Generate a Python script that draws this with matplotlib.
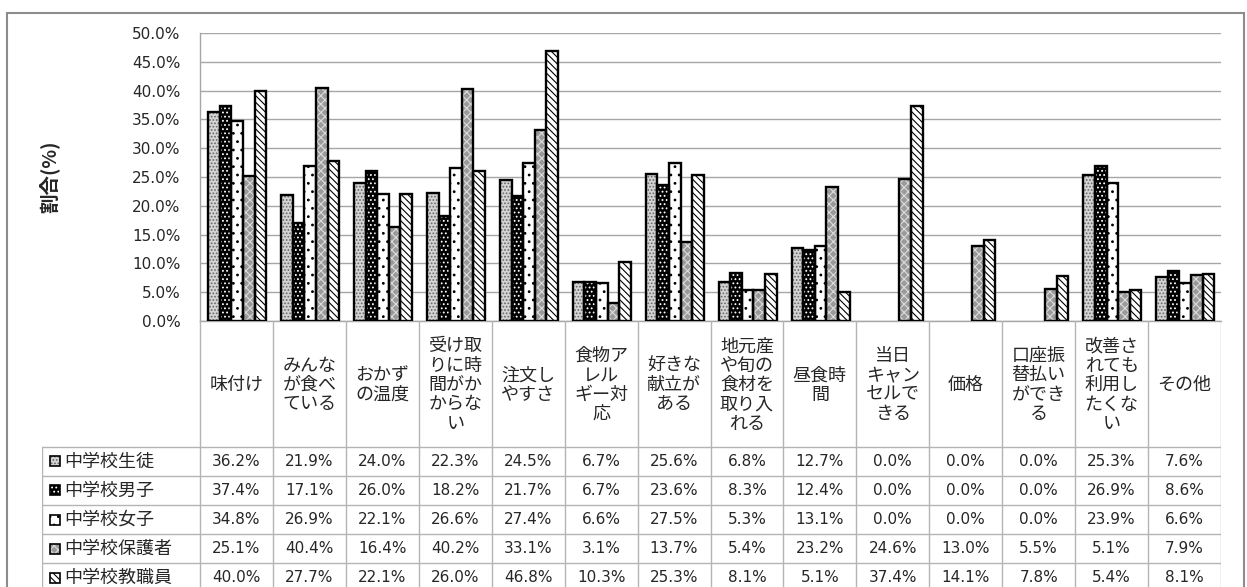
import matplotlib
matplotlib.use('Agg')
import matplotlib.pyplot as plt
from matplotlib.patches import Rectangle
from matplotlib.ticker import FixedLocator, FuncFormatter
import numpy as np

# ---- data -------------------------------------------------------------
categories = [
    '味付け',
    'みんな\nが食べ\nている',
    'おかず\nの温度',
    '受け取\nりに時\n間がか\nからな\nい',
    '注文し\nやすさ',
    '食物ア\nレル\nギー対\n応',
    '好きな\n献立が\nある',
    '地元産\nや旬の\n食材を\n取り入\nれる',
    '昼食時\n間',
    '当日\nキャン\nセルで\nきる',
    '価格',
    '口座振\n替払い\nができ\nる',
    '改善さ\nれても\n利用し\nたくな\nい',
    'その他',
]
series_names = ['中学校生徒', '中学校男子', '中学校女子', '中学校保護者', '中学校教職員']
seito = [36.2, 21.9, 24.0, 22.3, 24.5, 6.7, 25.6, 6.8, 12.7, 0.0, 0.0, 0.0, 25.3, 7.6]
danshi = [37.4, 17.1, 26.0, 18.2, 21.7, 6.7, 23.6, 8.3, 12.4, 0.0, 0.0, 0.0, 26.9, 8.6]
joshi = [34.8, 26.9, 22.1, 26.6, 27.4, 6.6, 27.5, 5.3, 13.1, 0.0, 0.0, 0.0, 23.9, 6.6]
hogosha = [25.1, 40.4, 16.4, 40.2, 33.1, 3.1, 13.7, 5.4, 23.2, 24.6, 13.0, 5.5, 5.1, 7.9]
kyoshokuin = [40.0, 27.7, 22.1, 26.0, 46.8, 10.3, 25.3, 8.1, 5.1, 37.4, 14.1, 7.8, 5.4, 8.1]
y_ticks = [0, 5, 10, 15, 20, 25, 30, 35, 40, 45, 50]
y_title = '割合(%)'

series = [seito, danshi, joshi, hogosha, kyoshokuin]

# fill patterns for each series: face colour, hatch, hatch colour
styles = [
    dict(face='#d4d4d4', hatch='.....', hc='#666666'),
    dict(face='#000000', hatch='....', hc='#ffffff'),
    dict(face='#ffffff', hatch='..', hc='#000000'),
    dict(face='#9a9a9a', hatch='xxxx', hc='#dcdcdc'),
    dict(face='#ffffff', hatch='\\\\\\\\\\', hc='#000000'),
]

CJK = ['Noto Sans CJK JP', 'DejaVu Sans']
NUM = ['DejaVu Sans']
TEXT_C = '#262626'
GRID_C = '#a6a6a6'
TABLE_C = '#b4b4b4'

plt.rcParams['hatch.linewidth'] = 0.8

W, H = 1247, 587
fig = plt.figure(figsize=(W / 100, H / 100), dpi=100)
fig.patch.set_facecolor('white')


def fx(px):
    return px / W


def fy(py):
    return 1 - py / H


# ---- bar area ---------------------------------------------------------
L, R, T, B = 200, 1221, 33, 321
ax = fig.add_axes([fx(L), fy(B), (R - L) / W, (B - T) / H])
n = len(categories)
x = np.arange(n)
bw = 0.159

for i, (vals, st) in enumerate(zip(series, styles)):
    pos = x + (i - 2) * bw + 0.01
    v = np.array(vals) / 100.0
    lw = np.where(v > 0, 1.7, 0.0)
    ax.bar(pos, v, bw, color=st['face'], edgecolor=st['hc'], hatch=st['hatch'],
           linewidth=0, zorder=3)
    ax.bar(pos, v, bw, facecolor='none', edgecolor='black', linewidth=lw, zorder=4)

ax.set_xlim(-0.5, n - 0.5)
ax.set_ylim(0, 0.5)
ax.yaxis.set_major_locator(FixedLocator([t / 100 for t in y_ticks]))
ax.yaxis.set_major_formatter(FuncFormatter(lambda v, p: f'{v * 100:.1f}%'))
ax.set_xticks([])
ax.tick_params(axis='y', length=0, pad=14, labelsize=11, labelcolor=TEXT_C)
for lab in ax.get_yticklabels():
    lab.set_family(NUM)
ax.grid(axis='y', color=GRID_C, linewidth=1.0, zorder=0)
for s in ['top', 'right']:
    ax.spines[s].set_visible(False)
ax.spines['left'].set_color(GRID_C)
ax.spines['bottom'].set_color(GRID_C)
ax.spines['left'].set_linewidth(1.0)
ax.spines['bottom'].set_linewidth(1.0)

fig.text(fx(49), fy((T + B) / 2), y_title, rotation=90, ha='center', va='center',
         fontsize=14, fontweight='bold', family=CJK, color=TEXT_C)

# ---- data table -------------------------------------------------------
TL = 42
tab_bottom = 592
head_h = 126
row_h = 29
px_per_cat = (R - L) / n
x_left = -0.5 - (L - TL) / px_per_cat

tax = fig.add_axes([fx(TL), fy(tab_bottom), (R - TL) / W, (tab_bottom - B) / H])
tax.set_xlim(x_left, n - 0.5)
tax.set_ylim(tab_bottom - B, 0)
tax.axis('off')

line_kw = dict(color=TABLE_C, linewidth=1.0, zorder=1)
for k in range(n + 1):
    tax.plot([k - 0.5, k - 0.5], [0, tab_bottom - B], **line_kw)
tax.plot([x_left, x_left], [head_h, tab_bottom - B], **line_kw)
for r in range(len(series) + 1):
    yy = head_h + r * row_h
    tax.plot([x_left, n - 0.5], [yy, yy], **line_kw)

for j, cat in enumerate(categories):
    tax.text(j, head_h / 2 + 1, cat, ha='center', va='center', multialignment='center',
             fontsize=13, family=CJK, color=TEXT_C, linespacing=1.1)


def px_to_cat(px):
    return x_left + (px - TL) / px_per_cat


key_w = 10 / px_per_cat
for r, (name, vals, st) in enumerate(zip(series_names, series, styles)):
    yc = head_h + r * row_h + row_h / 2
    kx = px_to_cat(50)
    tax.add_patch(Rectangle((kx, yc - 5), key_w, 10, facecolor=st['face'],
                            edgecolor=st['hc'], hatch=st['hatch'], linewidth=0, zorder=3))
    tax.add_patch(Rectangle((kx, yc - 5), key_w, 10, facecolor='none',
                            edgecolor='black', linewidth=1.2, zorder=4))
    tax.text(px_to_cat(64), yc, name, ha='left', va='center', fontsize=13,
             family=CJK, color=TEXT_C)
    for j, v in enumerate(vals):
        tax.text(j, yc, f'{v:.1f}%', ha='center', va='center', fontsize=11,
                 family=NUM, color=TEXT_C)

# outer chart border
fig.add_artist(Rectangle((fx(7), fy(620)), (1244 - 7) / W, (620 - 13) / H,
                         transform=fig.transFigure, fill=False,
                         edgecolor='#8c8c8c', linewidth=1.5))

fig.savefig('out.png', dpi=100)
